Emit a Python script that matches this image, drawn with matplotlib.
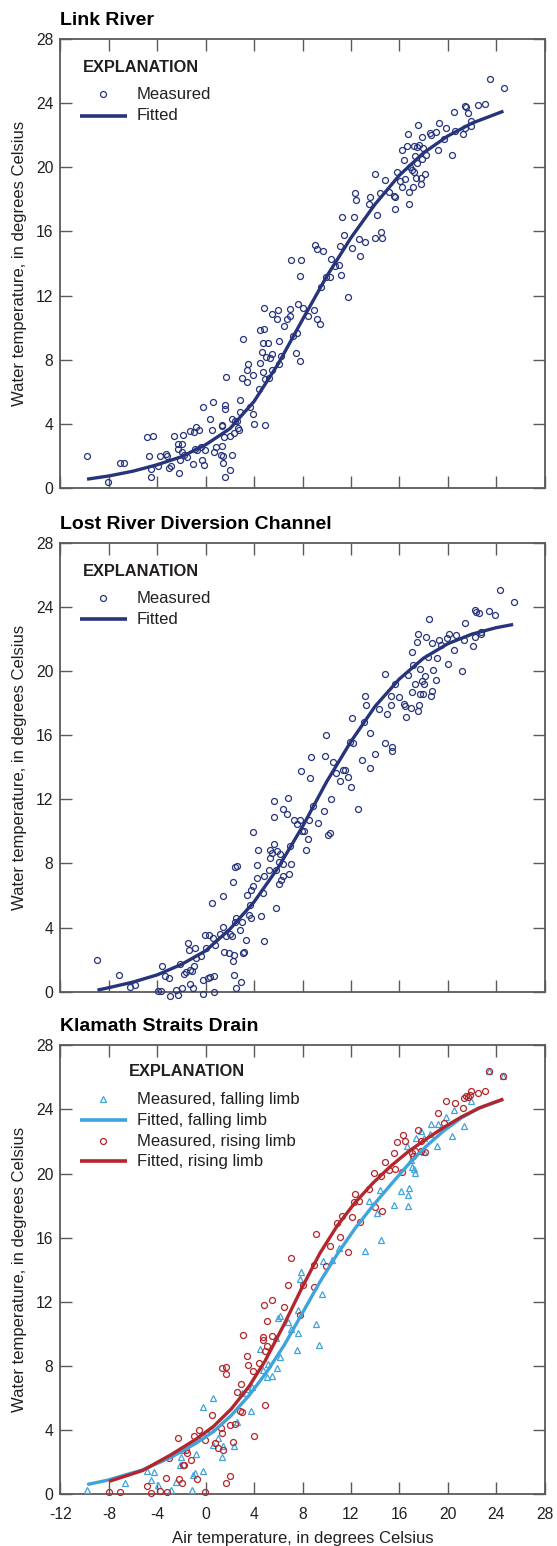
import numpy as np
import matplotlib
matplotlib.use("Agg")
import matplotlib.pyplot as plt
from matplotlib import font_manager as fm

# ---------------------------------------------------------------- data
link_measured = np.array([
    (-9.83, 2.00), (-8.04, 0.40), (-7.10, 1.58), (-6.72, 1.58), (-4.87, 3.18), (-4.31, 3.22),
    (-4.69, 2.00), (-4.52, 1.16), (-4.55, 0.67), (-3.90, 1.37), (-3.81, 2.02), (-3.30, 2.10),
    (-3.20, 1.98), (-3.00, 1.27), (-2.85, 1.35), (-2.64, 3.22), (-2.30, 2.77), (-2.26, 2.45),
    (-1.94, 2.77), (-1.85, 3.31), (-2.17, 0.92), (-2.08, 1.77), (-1.76, 2.06), (-1.58, 1.96),
    (-1.94, 2.25), (-1.26, 3.56), (-1.00, 3.47), (-0.79, 3.79), (-0.56, 3.64), (-1.08, 1.52),
    (-0.88, 2.41), (-0.70, 2.39), (-0.35, 2.56), (-0.26, 5.08), (-0.09, 2.35), (-0.29, 1.73),
    (-0.12, 1.44), (0.35, 4.33), (0.59, 5.37), (0.53, 3.64), (0.65, 2.23), (0.88, 2.54),
    (1.26, 2.06), (1.41, 1.98), (1.32, 3.85), (1.38, 3.93), (1.38, 2.60), (1.44, 1.56),
    (1.50, 3.18), (1.61, 0.67), (1.70, 6.93), (1.61, 5.16), (1.59, 4.95), (1.97, 3.22),
    (2.03, 1.10), (2.14, 4.29), (2.20, 2.06), (2.32, 3.45), (2.44, 4.18), (2.61, 4.18),
    (2.64, 3.77), (2.79, 3.60), (2.85, 4.76), (2.85, 5.49), (3.05, 9.30), (3.02, 6.87),
    (3.40, 6.62), (3.43, 7.34), (3.46, 7.74), (3.70, 5.08), (3.87, 7.03), (3.93, 4.60),
    (3.99, 3.97), (4.37, 6.18), (4.46, 7.78), (4.52, 9.86), (4.81, 9.92), (4.81, 11.23),
    (4.70, 9.05), (4.64, 8.47), (4.70, 7.24), (4.87, 6.82), (4.93, 3.95), (4.96, 8.18),
    (5.14, 9.07), (5.22, 6.84), (5.28, 8.11), (5.46, 8.38), (5.49, 7.36), (5.49, 10.88),
    (5.87, 10.55), (5.99, 11.07), (6.05, 9.15), (6.05, 7.74), (6.19, 8.26), (6.46, 10.13),
    (6.75, 10.55), (6.93, 11.17), (6.98, 10.71), (7.07, 14.21), (7.22, 9.49), (7.48, 8.40),
    (7.57, 9.69), (7.63, 11.50), (7.81, 7.90), (7.81, 13.19), (7.86, 14.23), (8.01, 11.25),
    (8.42, 10.73), (8.95, 11.13), (9.04, 15.17), (9.16, 14.89), (9.21, 10.53), (9.42, 10.23),
    (9.51, 12.54), (9.71, 14.79), (9.95, 13.17), (10.24, 13.17), (10.39, 14.27), (10.68, 13.85),
    (10.98, 13.90), (11.09, 15.10), (11.18, 13.29), (11.39, 15.75), (11.24, 16.87), (11.80, 11.90),
    (12.09, 14.94), (12.27, 16.93), (12.33, 18.39), (12.38, 17.95), (12.65, 15.52), (12.77, 14.44),
    (13.15, 15.31), (13.53, 17.72), (13.56, 18.14), (13.97, 19.58), (13.97, 15.58), (14.15, 17.04),
    (14.44, 18.37), (14.50, 15.96), (14.53, 15.58), (14.82, 19.18), (15.11, 18.47), (15.55, 18.22),
    (15.61, 18.16), (15.64, 17.39), (15.82, 19.70), (16.08, 19.12), (16.20, 18.78), (16.26, 21.07),
    (16.37, 20.47), (16.46, 19.29), (16.67, 21.34), (16.73, 22.05), (16.76, 17.74), (16.81, 18.43),
    (16.90, 20.03), (17.05, 19.83), (17.14, 18.78), (17.20, 19.72), (17.25, 21.34), (17.31, 20.70),
    (17.34, 19.31), (17.43, 20.24), (17.58, 22.61), (17.49, 21.28), (17.61, 21.36), (17.76, 19.31),
    (17.78, 18.93), (17.87, 21.88), (17.87, 20.53), (17.99, 21.18), (18.16, 19.60), (18.22, 20.74),
    (18.52, 22.15), (18.63, 22.02), (19.04, 22.17), (19.16, 21.07), (19.25, 22.78), (19.66, 21.76),
    (19.86, 22.47), (20.33, 20.78), (20.54, 23.44), (20.57, 22.24), (21.27, 22.07), (21.39, 22.43),
    (21.42, 23.82), (21.51, 23.78), (21.69, 23.40), (21.92, 22.59), (21.92, 22.88), (22.51, 23.90),
    (23.07, 23.94), (23.45, 25.50), (24.62, 24.92),
])
link_fitted = np.array([
    (-9.8, 0.55), (-8, 0.75), (-6, 1.05), (-4, 1.45), (-2, 1.95), (0, 2.7), (2, 3.7),
    (4, 5.4), (6, 7.75), (8, 10.5), (10, 13.2), (12, 15.6), (14, 17.7), (16, 19.5),
    (18, 20.9), (20, 21.95), (22, 22.75), (24.6, 23.5),
])

lost_measured = np.array([
    (-8.94, 2.00), (-7.12, 1.04), (-6.21, 0.31), (-5.80, 0.42), (-3.96, 0.04), (-3.67, 0.06),
    (-3.61, 1.60), (-3.40, 0.96), (-3.05, 0.83), (-2.93, -0.25), (-2.49, 0.08), (-2.29, -0.19),
    (-2.14, 1.75), (-1.94, 0.23), (-1.79, 1.08), (-1.59, 1.21), (-1.47, 3.02), (-1.38, 2.60),
    (-1.26, 1.37), (-1.29, 0.48), (-1.12, 1.29), (-1.00, 1.58), (-1.03, 0.23), (-0.88, 2.75),
    (-0.77, 2.08), (-0.36, 2.21), (-0.24, -0.17), (-0.18, 0.73), (-0.09, 3.52), (-0.01, 2.75),
    (0.17, 0.83), (0.29, 3.52), (0.35, 0.94), (0.55, 5.55), (0.58, 3.33), (0.73, 0.00),
    (0.73, 0.96), (0.78, 2.91), (1.22, 3.62), (1.40, 4.06), (1.46, 5.99), (1.52, 2.48),
    (1.72, 3.47), (1.90, 2.39), (2.04, 3.62), (2.16, 3.45), (2.22, 6.86), (2.25, 1.89),
    (2.31, 2.29), (2.37, 1.04), (2.40, 4.37), (2.48, 0.25), (2.54, 4.58), (2.45, 7.78),
    (2.57, 7.86), (2.80, 3.83), (2.92, 0.62), (3.01, 4.33), (3.07, 2.39), (3.16, 2.50),
    (3.30, 3.25), (3.45, 6.01), (3.54, 4.78), (3.68, 5.43), (3.71, 6.32), (3.74, 4.62),
    (3.89, 6.59), (3.95, 9.99), (4.24, 7.07), (4.30, 8.82), (4.27, 7.93), (4.56, 4.70),
    (4.77, 6.14), (4.85, 3.16), (4.83, 7.20), (5.24, 7.57), (5.30, 8.32), (5.32, 8.82),
    (5.47, 8.67), (5.62, 9.22), (5.68, 10.92), (5.68, 11.90), (5.79, 5.22), (5.85, 7.61),
    (5.88, 8.78), (6.03, 8.09), (6.06, 6.74), (6.11, 8.57), (6.26, 6.95), (6.35, 7.95),
    (6.35, 11.40), (6.41, 7.22), (6.73, 11.07), (6.79, 12.11), (6.85, 7.36), (6.93, 9.11),
    (7.02, 7.97), (7.29, 10.69), (7.55, 10.44), (7.81, 10.71), (7.90, 13.77), (7.99, 10.03),
    (8.16, 10.03), (8.31, 8.84), (8.46, 9.55), (8.54, 10.69), (8.63, 13.31), (8.72, 14.62),
    (8.87, 11.59), (9.28, 10.55), (9.78, 11.28), (9.84, 14.67), (9.98, 16.00), (10.07, 9.76),
    (10.24, 9.90), (10.33, 12.04), (10.50, 14.31), (10.77, 13.63), (11.09, 13.15), (11.36, 13.81),
    (11.50, 13.81), (11.77, 13.40), (11.91, 15.58), (12.03, 12.79), (12.09, 17.08), (12.20, 15.48),
    (12.62, 11.42), (12.94, 14.46), (13.11, 16.83), (13.17, 18.41), (13.23, 17.89), (13.55, 16.16),
    (13.58, 13.96), (13.99, 14.85), (14.31, 17.66), (14.81, 19.80), (14.81, 15.52), (15.01, 17.31),
    (15.28, 18.43), (15.34, 17.89), (15.37, 15.27), (15.37, 15.02), (15.66, 19.16), (15.98, 18.39),
    (16.42, 17.97), (16.51, 17.14), (16.48, 17.79), (16.68, 19.72), (16.98, 17.72), (17.04, 21.16),
    (17.04, 18.72), (17.13, 20.37), (17.27, 19.18), (17.50, 21.78), (17.56, 22.30), (17.56, 17.52),
    (17.62, 17.89), (17.68, 18.56), (17.71, 20.12), (17.91, 19.39), (17.97, 18.56), (18.06, 19.18),
    (18.12, 19.70), (18.18, 22.09), (18.35, 20.89), (18.44, 23.24), (18.62, 18.45), (18.68, 18.76),
    (18.74, 20.05), (18.71, 21.72), (19.03, 19.45), (19.09, 20.84), (19.29, 21.93), (19.44, 21.63),
    (19.91, 22.05), (20.02, 20.43), (20.14, 22.30), (20.52, 21.30), (20.67, 22.22), (21.17, 20.01),
    (21.40, 22.97), (21.37, 21.93), (22.10, 21.57), (22.22, 22.13), (22.22, 23.80), (22.37, 23.65),
    (22.54, 23.63), (22.75, 22.30), (22.75, 22.45), (23.39, 23.76), (23.92, 23.49), (24.30, 25.05),
    (25.44, 24.28),
])
lost_fitted = np.array([
    (-8.94, 0.1), (-8, 0.25), (-6, 0.6), (-4, 1.05), (-2, 1.7), (0, 2.55), (2, 3.9),
    (4, 5.6), (6, 7.75), (8, 10.3), (10, 13.1), (12, 15.6), (14, 17.8), (16, 19.5),
    (18, 20.8), (20, 21.7), (22, 22.3), (24, 22.7), (25.4, 22.9),
])

ksd_falling_measured = np.array([
    (-9.79, 0.28), (-6.68, 0.72), (-4.81, 1.48), (-4.28, 1.37), (-4.49, 0.87), (-3.90, 0.61),
    (-2.88, 0.28), (-2.44, 0.76), (-2.14, 1.80), (-2.06, 2.35), (-1.85, 2.74), (-1.12, 0.28),
    (-1.06, 1.22), (-0.91, 1.33), (-0.83, 2.50), (-0.24, 1.43), (-0.24, 5.43), (0.58, 6.00),
    (0.40, 4.09), (0.58, 3.07), (1.05, 3.50), (1.37, 2.35), (1.46, 3.00), (2.34, 3.00),
    (2.60, 4.48), (2.98, 6.30), (3.42, 6.59), (3.71, 5.17), (3.86, 6.70), (4.47, 9.09),
    (4.74, 7.78), (5.09, 7.30), (5.18, 8.11), (5.47, 7.39), (5.91, 7.85), (5.97, 11.00),
    (6.11, 11.15), (6.14, 8.54), (5.85, 9.74), (6.79, 10.72), (7.02, 10.28), (7.52, 9.02),
    (7.61, 10.07), (7.61, 11.52), (7.78, 13.43), (7.90, 13.87), (9.13, 10.61), (9.36, 9.30),
    (9.57, 12.50), (9.72, 14.52), (10.45, 14.63), (11.03, 15.39), (13.14, 15.17), (13.52, 18.26),
    (14.17, 17.52), (14.40, 18.98), (14.49, 15.83), (15.57, 18.04), (16.16, 18.91), (16.74, 18.00),
    (16.74, 18.65), (16.80, 19.09), (16.66, 21.74), (16.98, 20.83), (17.04, 20.39), (17.18, 20.28),
    (17.33, 20.02), (17.39, 22.24), (17.77, 22.67), (18.06, 21.37), (18.56, 22.46), (18.62, 23.11),
    (19.15, 21.74), (20.32, 22.35), (20.55, 23.98), (21.37, 22.96), (21.96, 24.52), (23.42, 26.37),
    (24.59, 26.09), (18.06, 22.24), (19.23, 23.11), (19.82, 23.54),
])
ksd_falling_fitted = np.array([
    (-9.79, 0.61), (-8.15, 0.87), (-5.22, 1.52), (-2.88, 2.30), (-0.83, 3.17), (0.64, 3.91),
    (2.10, 4.91), (3.57, 6.15), (5.03, 7.61), (6.49, 9.30), (7.96, 11.26), (9.42, 13.22),
    (10.89, 15.00), (12.35, 16.59), (13.82, 18.00), (15.28, 19.30), (16.74, 20.57),
    (18.21, 21.70), (19.67, 22.67), (21.14, 23.48), (22.60, 24.09), (24.59, 24.63),
])

ksd_rising_measured = np.array([
    (-8.00, 0.17), (-7.06, 0.13), (-4.81, 0.50), (-4.52, 0.07), (-3.78, 0.22), (-3.29, 1.04),
    (-3.17, 0.13), (-3.05, 2.26), (-2.29, 3.50), (-2.20, 0.93), (-1.94, 0.72), (-1.91, 1.80),
    (-1.82, 1.85), (-1.65, 2.78), (-1.56, 2.57), (-1.21, 2.13), (-0.97, 3.65), (-0.68, 0.93),
    (-0.53, 4.04), (-0.27, 3.65), (-0.06, 3.39), (-0.06, 0.17), (0.49, 4.96), (0.81, 3.17),
    (0.99, 2.89), (1.25, 4.13), (1.37, 3.80), (1.46, 2.78), (1.37, 7.89), (1.69, 7.96),
    (1.72, 7.50), (1.66, 0.72), (2.01, 4.33), (2.04, 1.15), (2.22, 3.28), (2.45, 4.41),
    (2.63, 6.37), (2.86, 5.17), (2.92, 6.85), (2.98, 5.11), (3.07, 9.91), (3.45, 8.65),
    (3.48, 8.04), (3.95, 7.67), (4.03, 3.65), (4.39, 8.17), (4.80, 11.80), (4.77, 9.78),
    (4.74, 9.63), (4.88, 8.91), (4.94, 5.54), (5.09, 10.78), (5.03, 9.24), (5.50, 12.13),
    (5.50, 9.85), (6.44, 11.65), (6.79, 13.07), (7.08, 14.74), (7.81, 11.20), (8.02, 13.07),
    (8.93, 12.93), (8.98, 14.30), (9.13, 16.22), (9.95, 14.24), (10.24, 15.50), (10.89, 16.91),
    (11.12, 16.04), (11.24, 17.35), (11.77, 15.13), (12.12, 17.28), (12.26, 18.22), (12.35, 18.72),
    (12.64, 18.26), (12.73, 17.00), (13.52, 19.04), (13.87, 20.04), (13.96, 17.89), (14.46, 19.83),
    (14.55, 17.67), (14.78, 20.72), (15.13, 20.22), (15.63, 20.26), (15.57, 21.26), (15.81, 21.96),
    (16.19, 20.11), (16.30, 22.39), (16.45, 22.02), (17.01, 21.26), (17.09, 21.09), (17.27, 21.43),
    (17.56, 22.74), (17.80, 22.02), (17.80, 21.43), (18.15, 21.37), (19.23, 23.76), (19.67, 23.17),
    (19.88, 24.52), (20.58, 24.41), (21.28, 24.09), (21.37, 24.74), (21.49, 24.85), (21.66, 24.78),
    (21.87, 24.91), (21.96, 25.17), (22.46, 25.00), (23.04, 25.13), (23.42, 26.37), (24.59, 26.09),
])
ksd_rising_fitted = np.array([
    (-8.00, 0.80), (-5.22, 1.48), (-2.88, 2.46), (-0.83, 3.42), (0.64, 4.23), (2.10, 5.31),
    (3.57, 6.71), (4.88, 8.28), (6.49, 10.61), (7.96, 12.89), (9.42, 15.01), (10.89, 16.77),
    (12.35, 18.20), (13.82, 19.41), (15.28, 20.46), (16.74, 21.37), (18.21, 22.15),
    (19.67, 22.88), (21.14, 23.54), (22.60, 24.09), (24.59, 24.65),
])

panel_titles = ["Link River", "Lost River Diversion Channel", "Klamath Straits Drain"]
x_ticks = list(range(-12, 29, 4))
y_ticks = list(range(0, 29, 4))
x_label = "Air temperature, in degrees Celsius"
y_label = "Water temperature, in degrees Celsius"

# ---------------------------------------------------------------- style
available = {f.name for f in fm.fontManager.ttflist}


def pick(*names):
    for name in names:
        if name in available:
            return name
    return "DejaVu Sans"


FONT = pick("Liberation Sans", "Arial", "DejaVu Sans")
plt.rcParams["font.family"] = [FONT, "DejaVu Sans"]
plt.rcParams["axes.unicode_minus"] = False

NAVY = "#27347b"
LIGHT_BLUE = "#3fa4dc"
DARK_RED = "#b3262c"
TEXT = "#231f20"
FRAME = "#5a5a5a"

W, H = 557, 1546
fig = plt.figure(figsize=(W / 100, H / 100), dpi=100)

AX_LEFT, AX_RIGHT = 60.4, 544.6
AX_H = 449.0
panel_tops = [39.0, 542.7, 1045.3]
ax_w = AX_RIGHT - AX_LEFT

TICK_SIZE = 11.3
LABEL_SIZE = 12
KEY_SIZE = 12


def make_axes(top):
    ax = fig.add_axes([AX_LEFT / W, 1 - (top + AX_H) / H, ax_w / W, AX_H / H])
    ax.set_xlim(-12, 28)
    ax.set_ylim(0, 28)
    ax.set_xticks(x_ticks)
    ax.set_yticks(y_ticks)
    for s in ax.spines.values():
        s.set_color(FRAME)
        s.set_linewidth(1.3)
    ax.tick_params(direction="in", length=8.5, width=1.0, color=FRAME,
                   top=True, right=True, labelsize=TICK_SIZE, labelcolor=TEXT)
    ax.tick_params(axis="y", pad=5)
    ax.tick_params(axis="x", pad=9)
    ax.set_ylabel(y_label, fontsize=LABEL_SIZE, color=TEXT)
    ax.yaxis.set_label_coords(-(AX_LEFT - 26.6) / ax_w, 0.5)
    return ax


def px_to_axes(dx, dy):
    """Offsets in pixels from the top-left corner to axes fraction."""
    return dx / ax_w, 1 - dy / AX_H


def title(ax, text):
    ax.text(0.0, 1 + 14 / AX_H, text, transform=ax.transAxes, ha="left",
            va="baseline", fontsize=14, fontweight="bold", color="black")


def explanation(ax, dx, dy):
    x, y = px_to_axes(dx, dy)
    ax.text(x, y, "EXPLANATION", transform=ax.transAxes, fontsize=11.8,
            fontweight="bold", color=TEXT, va="center", ha="left")


def key_marker(ax, dy, marker, color, ms):
    x, y = px_to_axes(42.6, dy)
    ax.plot([x], [y], marker=marker, ls="none", mfc="none", mec=color, ms=ms,
            mew=0.9, transform=ax.transAxes, clip_on=False)


def key_line(ax, dy, color):
    x0, y = px_to_axes(19.6, dy)
    x1, _ = px_to_axes(66.6, dy)
    ax.plot([x0, x1], [y, y], color=color, lw=2.6, solid_capstyle="butt",
            transform=ax.transAxes)


def key_text(ax, dy, text):
    x, y = px_to_axes(76.5, dy)
    ax.text(x, y, text, transform=ax.transAxes, fontsize=KEY_SIZE, color=TEXT,
            va="center", ha="left")


def plot_points(ax, data, marker, color, ms):
    ax.plot(data[:, 0], data[:, 1], marker=marker, ls="none", mfc="none",
            mec=color, ms=ms, mew=0.9, clip_on=False, zorder=3)


def plot_curve(ax, data, color, z=4):
    ax.plot(data[:, 0], data[:, 1], color=color, lw=2.4, zorder=z,
            solid_joinstyle="round", solid_capstyle="butt")


# ---------------------------------------------------------------- panels
axes = [make_axes(t) for t in panel_tops]

for ax, measured, fitted in [(axes[0], link_measured, link_fitted),
                             (axes[1], lost_measured, lost_fitted)]:
    plot_points(ax, measured, "o", NAVY, 4.3)
    plot_curve(ax, fitted, NAVY)
    ax.tick_params(axis="x", labelbottom=False)
    explanation(ax, 22.6, 28.5)
    key_marker(ax, 55.3, "o", NAVY, 4.3)
    key_text(ax, 55.3, "Measured")
    key_line(ax, 76.7, NAVY)
    key_text(ax, 76.7, "Fitted")

ax = axes[2]
plot_points(ax, ksd_falling_measured, "^", LIGHT_BLUE, 5.0)
plot_points(ax, ksd_rising_measured, "o", DARK_RED, 4.3)
plot_curve(ax, ksd_falling_fitted, LIGHT_BLUE, z=4)
plot_curve(ax, ksd_rising_fitted, DARK_RED, z=5)
ax.set_xlabel(x_label, fontsize=LABEL_SIZE, color=TEXT)
ax.xaxis.set_label_coords(0.5, -(1531 - 1494) / AX_H)
explanation(ax, 68.0, 26.0)
key_marker(ax, 54.0, "^", LIGHT_BLUE, 5.0)
key_text(ax, 54.0, "Measured, falling limb")
key_line(ax, 75.0, LIGHT_BLUE)
key_text(ax, 75.0, "Fitted, falling limb")
key_marker(ax, 95.8, "o", DARK_RED, 4.3)
key_text(ax, 95.8, "Measured, rising limb")
key_line(ax, 116.0, DARK_RED)
key_text(ax, 116.0, "Fitted, rising limb")

for ax, t in zip(axes, panel_titles):
    title(ax, t)

fig.savefig("out.png", dpi=100)
